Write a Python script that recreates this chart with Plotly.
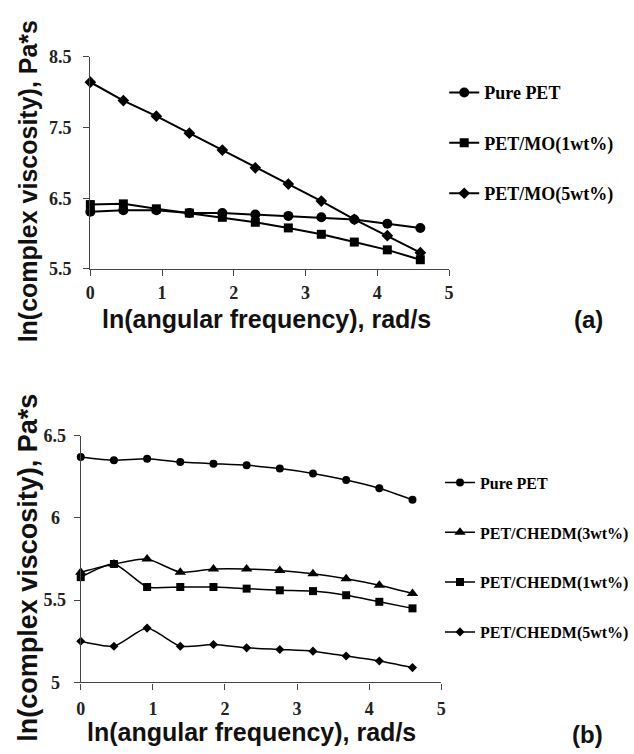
import plotly.graph_objects as go

# ln(angular frequency) sampling points, shared by both panels
ln_freq = [0.0, 0.46, 0.92, 1.38, 1.84, 2.30, 2.76, 3.22, 3.68, 4.14, 4.60]

# Panel (a): PET with MO
pure_pet_a = [6.31, 6.33, 6.33, 6.29, 6.29, 6.27, 6.25, 6.23, 6.20, 6.14, 6.08]
pet_mo_1 = [6.41, 6.42, 6.35, 6.29, 6.23, 6.16, 6.08, 5.99, 5.88, 5.77, 5.63]
pet_mo_5 = [8.14, 7.88, 7.66, 7.42, 7.18, 6.93, 6.70, 6.46, 6.20, 5.97, 5.73]

# Panel (b): PET with CHEDM
pure_pet_b = [6.37, 6.35, 6.36, 6.34, 6.33, 6.32, 6.30, 6.27, 6.23, 6.18, 6.11]
chedm_3 = [5.67, 5.72, 5.75, 5.67, 5.69, 5.69, 5.68, 5.66, 5.63, 5.59, 5.54]
chedm_1 = [5.64, 5.72, 5.58, 5.58, 5.58, 5.57, 5.56, 5.555, 5.53, 5.49, 5.45]
chedm_5 = [5.25, 5.22, 5.33, 5.22, 5.23, 5.21, 5.20, 5.19, 5.16, 5.13, 5.09]

x_ticks = [0, 1, 2, 3, 4, 5]
y_ticks_a = [5.5, 6.5, 7.5, 8.5]
y_ticktext_a = ["5.5", "6.5", "7.5", "8.5"]
y_ticks_b = [5.0, 5.5, 6.0, 6.5]
y_ticktext_b = ["5\u2004", "5.5", "6\u2004", "6.5"]

W, H = 634, 754
SERIF = "Liberation Serif"
SANS = "Liberation Sans"
INK = "#000000"

def px_x(p):
    return p / W

def px_y(p):
    return 1 - p / H

fig = go.Figure()

series_a = [
    ("Pure PET", pure_pet_a, "circle", 10),
    ("PET/MO(1wt%)", pet_mo_1, "square", 9),
    ("PET/MO(5wt%)", pet_mo_5, "diamond", 9),
]
for name, ys, sym, size in series_a:
    fig.add_trace(go.Scatter(
        x=ln_freq, y=ys, name=name, mode="lines+markers",
        line=dict(color=INK, width=2),
        marker=dict(symbol=sym, size=size, color=INK),
        xaxis="x", yaxis="y", legend="legend", legendgroup=name,
        cliponaxis=False,
    ))

series_b = [
    ("Pure PET", pure_pet_b, "circle", 8),
    ("PET/CHEDM(3wt%)", chedm_3, "triangle-up", 10),
    ("PET/CHEDM(1wt%)", chedm_1, "square", 8),
    ("PET/CHEDM(5wt%)", chedm_5, "diamond", 7),
]
for name, ys, sym, size in series_b:
    fig.add_trace(go.Scatter(
        x=ln_freq, y=ys, name=name, mode="lines+markers",
        line=dict(color=INK, width=1.5, shape="spline", smoothing=0.6),
        marker=dict(symbol=sym, size=size, color=INK),
        xaxis="x2", yaxis="y2", legend="legend2", legendgroup=name + "b",
        cliponaxis=False,
    ))

tick_font = dict(family=SERIF, size=18, color="#222", weight="bold")
axis_common = dict(
    showgrid=False, zeroline=False, showline=True, linecolor="#444",
    linewidth=1.3, ticks="outside", ticklen=6, tickwidth=1.3,
    tickcolor="#444", tickfont=tick_font,
)

fig.update_layout(
    width=W, height=H,
    margin=dict(l=0, r=0, t=0, b=0),
    paper_bgcolor="white", plot_bgcolor="white",
    xaxis=dict(domain=[px_x(89), px_x(463)], range=[0, 5], tickvals=x_ticks,
               anchor="y", ticklabelstandoff=1, **axis_common),
    yaxis=dict(domain=[px_y(266), px_y(48)], range=[5.5, 8.5], tickvals=y_ticks_a,
               ticktext=y_ticktext_a, anchor="x",
               ticklabelstandoff=8, **axis_common),
    xaxis2=dict(domain=[px_x(79), px_x(455)], range=[0, 5], tickvals=x_ticks,
                anchor="y2", ticklabelstandoff=4, **axis_common),
    yaxis2=dict(domain=[px_y(690.7), px_y(437.3)], range=[5, 6.5],
                tickvals=y_ticks_b, ticktext=y_ticktext_b, anchor="x2",
                ticklabelstandoff=4, **axis_common),
    legend=dict(
        x=px_x(458), y=px_y(66), xanchor="left", yanchor="top",
        font=dict(family=SERIF, size=18, color=INK, weight="bold"),
        tracegroupgap=24, itemwidth=30, bgcolor="rgba(0,0,0,0)",
    ),
    legend2=dict(
        x=px_x(454), y=px_y(468), xanchor="left", yanchor="top",
        font=dict(family=SERIF, size=16, color=INK, weight="bold"),
        tracegroupgap=26, itemwidth=30, bgcolor="rgba(0,0,0,0)",
    ),
    showlegend=True,
)

def title_font(size):
    return dict(family=SANS, size=size, color="#111", weight="bold")

annotations = [
    dict(text="ln(angular frequency), rad/s", x=px_x(273), y=px_y(317), font=title_font(25)),
    dict(text="ln(angular frequency), rad/s", x=px_x(257), y=px_y(742), font=title_font(25)),
    dict(text="ln(complex viscosity), Pa*s", x=px_x(24), y=px_y(176), textangle=-90,
         font=title_font(25)),
    dict(text="ln(complex viscosity), Pa*s", x=px_x(24), y=px_y(573), textangle=-90,
         font=title_font(27)),
    dict(text="(a)", x=px_x(608), y=px_y(318), font=title_font(24)),
    dict(text="(b)", x=px_x(607), y=px_y(744), font=title_font(24)),
]
for a in annotations:
    fig.add_annotation(xref="paper", yref="paper", showarrow=False,
                       xanchor="center", yanchor="middle", **a)

fig.write_html("out.html")
